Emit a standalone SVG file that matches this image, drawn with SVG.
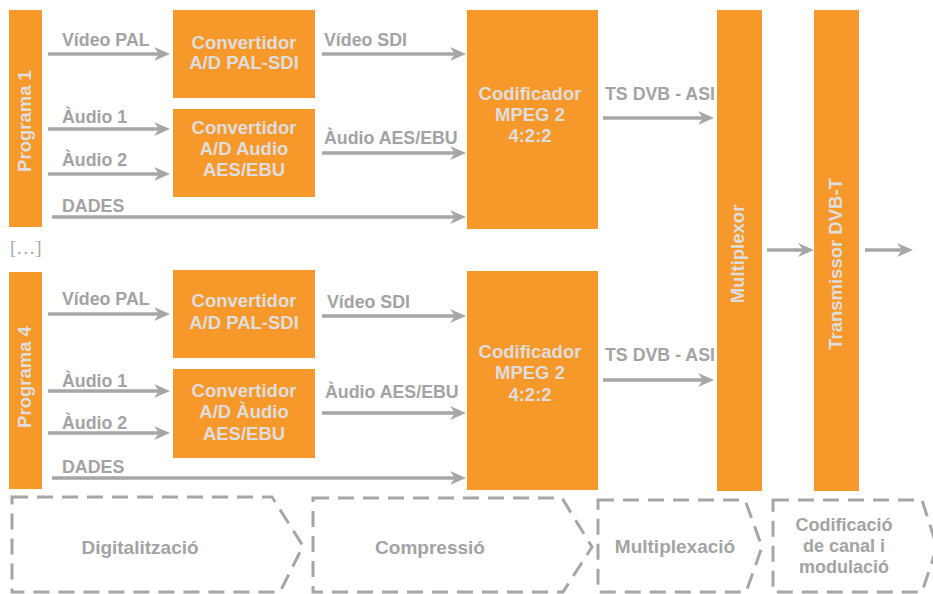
<svg xmlns="http://www.w3.org/2000/svg" width="933" height="594" viewBox="0 0 933 594">
<style>
.box{fill:#F7982A}
.bt{font-family:"Liberation Sans",Arial,sans-serif;font-weight:bold;font-size:18.5px;fill:#DEDEDE;text-anchor:middle}
.lb{font-family:"Liberation Sans",Arial,sans-serif;font-weight:bold;font-size:17.8px;fill:#A3A3A3}
.st{font-family:"Liberation Sans",Arial,sans-serif;font-weight:bold;font-size:19px;fill:#A3A3A3;text-anchor:middle}
.st2{font-family:"Liberation Sans",Arial,sans-serif;font-weight:bold;font-size:18px;fill:#A3A3A3;text-anchor:middle}
.ar{stroke:#A6A6A6;stroke-width:3.5;fill:none;marker-end:url(#ah)}
.ds{stroke:#A6A6A6;stroke-width:3;fill:none;stroke-dasharray:16 9}
</style>
<defs>
<marker id="ah" markerUnits="userSpaceOnUse" viewBox="-17 -8 18 16" refX="-8" refY="0" markerWidth="18" markerHeight="16" orient="auto">
<path d="M0,0 L-16,-7 L-11,0 L-16,7 Z" fill="#A6A6A6"/>
</marker>
</defs>
<rect width="933" height="594" fill="#FFFFFF"/>

<g id="connectors">
<line class="ar" x1="48" y1="54" x2="162" y2="54"/>
<line class="ar" x1="48" y1="129" x2="162" y2="129"/>
<line class="ar" x1="48" y1="174" x2="162" y2="174"/>
<line class="ar" x1="52" y1="217" x2="458" y2="217"/>
<line class="ar" x1="322" y1="54" x2="458" y2="54"/>
<line class="ar" x1="322" y1="153" x2="458" y2="153"/>
<line class="ar" x1="603" y1="118" x2="706" y2="118"/>
<line class="ar" x1="48" y1="314" x2="162" y2="314"/>
<line class="ar" x1="48" y1="391" x2="162" y2="391"/>
<line class="ar" x1="48" y1="433" x2="162" y2="433"/>
<line class="ar" x1="52" y1="478" x2="458" y2="478"/>
<line class="ar" x1="322" y1="316" x2="458" y2="316"/>
<line class="ar" x1="322" y1="413" x2="458" y2="413"/>
<line class="ar" x1="603" y1="380" x2="706" y2="380"/>
<line class="ar" x1="767" y1="250" x2="806" y2="250"/>
<line class="ar" x1="865" y1="250" x2="905" y2="250"/>
</g>

<g id="labels">
<text class="lb" x="62" y="46">Vídeo PAL</text>
<text class="lb" x="62" y="123">Àudio 1</text>
<text class="lb" x="62" y="166">Àudio 2</text>
<text class="lb" x="62" y="212">DADES</text>
<text class="lb" x="324" y="46">Vídeo SDI</text>
<text class="lb" x="324" y="144">Àudio AES/EBU</text>
<text class="lb" x="605" y="100">TS DVB - ASI</text>
<text class="lb" x="62" y="305">Vídeo PAL</text>
<text class="lb" x="62" y="387">Àudio 1</text>
<text class="lb" x="62" y="429">Àudio 2</text>
<text class="lb" x="62" y="473">DADES</text>
<text class="lb" x="327" y="308">Vídeo SDI</text>
<text class="lb" x="325" y="398">Àudio AES/EBU</text>
<text class="lb" x="605" y="361">TS DVB - ASI</text>
<text x="10" y="254" font-family="'Liberation Serif','Times New Roman',serif" font-size="19" fill="#A8A8A8">[…]</text>
</g>

<g id="programa1">
<rect class="box" x="9" y="10" width="33" height="217"/>
<text class="bt" transform="translate(31,121) rotate(-90)">Programa 1</text>
</g>
<g id="conv1">
<rect class="box" x="173" y="10" width="142" height="88"/>
<text class="bt" x="244" y="49">Convertidor</text>
<text class="bt" x="244" y="69">A/D PAL-SDI</text>
</g>
<g id="conv2">
<rect class="box" x="173" y="109" width="142" height="88"/>
<text class="bt" x="244" y="134">Convertidor</text>
<text class="bt" x="244" y="155">A/D Audio</text>
<text class="bt" x="244" y="176">AES/EBU</text>
</g>
<g id="codif1">
<rect class="box" x="467" y="10" width="131" height="219"/>
<text class="bt" x="530" y="100">Codificador</text>
<text class="bt" x="530" y="121">MPEG 2</text>
<text class="bt" x="530" y="142">4:2:2</text>
</g>

<g id="programa4">
<rect class="box" x="9" y="272" width="33" height="217"/>
<text class="bt" transform="translate(31,377) rotate(-90)">Programa 4</text>
</g>
<g id="conv3">
<rect class="box" x="173" y="270" width="142" height="88"/>
<text class="bt" x="244" y="307">Convertidor</text>
<text class="bt" x="244" y="329">A/D PAL-SDI</text>
</g>
<g id="conv4">
<rect class="box" x="173" y="369" width="142" height="89"/>
<text class="bt" x="244" y="397">Convertidor</text>
<text class="bt" x="244" y="418">A/D Àudio</text>
<text class="bt" x="244" y="440">AES/EBU</text>
</g>
<g id="codif2">
<rect class="box" x="467" y="271" width="131" height="219"/>
<text class="bt" x="530" y="358">Codificador</text>
<text class="bt" x="530" y="379">MPEG 2</text>
<text class="bt" x="530" y="401">4:2:2</text>
</g>

<g id="multiplexor">
<rect class="box" x="717" y="10" width="45" height="481"/>
<text class="bt" transform="translate(744,254) rotate(-90)">Multiplexor</text>
</g>
<g id="transmissor">
<rect class="box" x="814" y="10" width="45" height="481"/>
<text class="bt" transform="translate(842,264) rotate(-90)">Transmissor DVB-T</text>
</g>

<g id="stages">
<path class="ds" d="M12,497 L272,497 L303,546 L280,592 L12,592 Z"/>
<text class="st" x="140" y="554">Digitalització</text>
<path class="ds" d="M313,498 L562,498 L592,547 L563,592 L313,592 Z"/>
<text class="st" x="430" y="554">Compressió</text>
<path class="ds" d="M598,500 L745,500 L762,547 L746,592 L598,592 Z"/>
<text class="st" x="675" y="553">Multiplexació</text>
<path class="ds" d="M773,500 L922,500 L937,547 L922,592 L773,592 Z"/>
<text class="st2" x="844" y="531">Codificació</text>
<text class="st2" x="844" y="552">de canal i</text>
<text class="st2" x="844" y="573">modulació</text>
</g>
</svg>
